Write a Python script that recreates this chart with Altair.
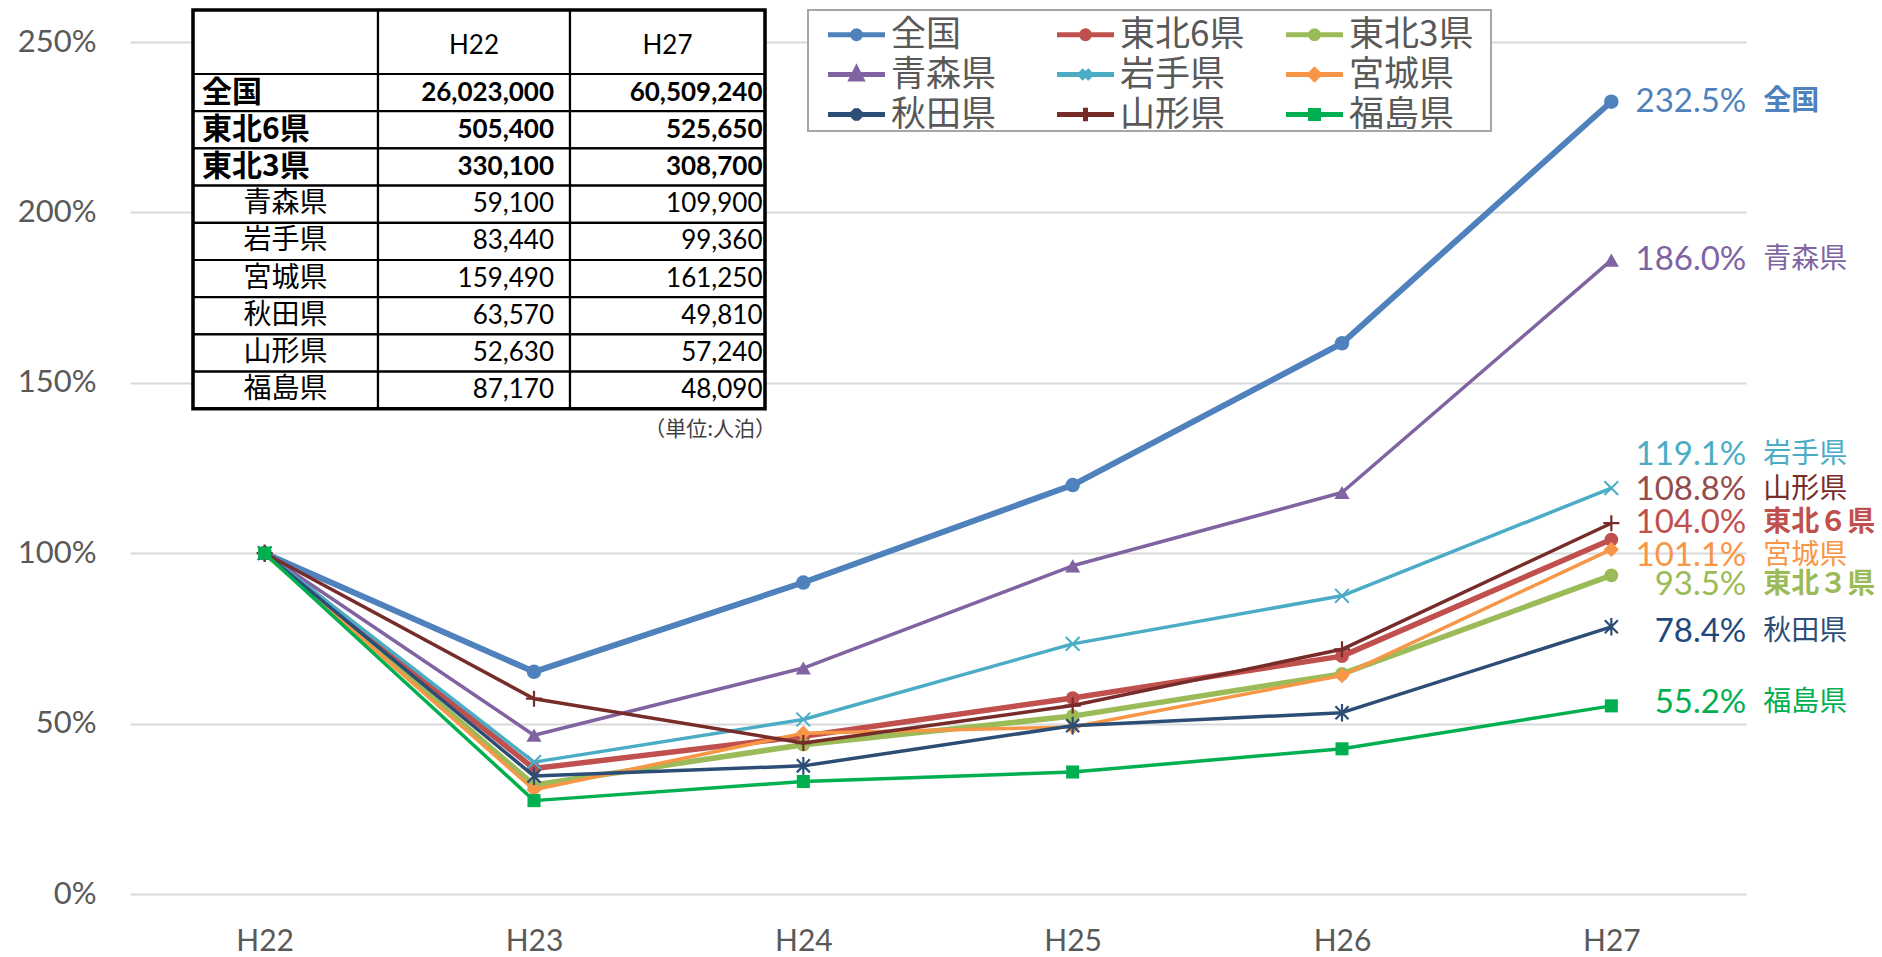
import altair as alt
import pandas as pd

# ---------------- data ----------------
years = ["H22", "H23", "H24", "H25", "H26", "H27"]
series = ["全国", "東北6県", "東北3県", "青森県", "岩手県", "宮城県", "秋田県", "山形県", "福島県"]

v_zenkoku = [100, 65.2, 91.4, 120.0, 161.6, 232.5]
v_tohoku6 = [100, 36.8, 46.3, 57.5, 69.8, 104.0]
v_tohoku3 = [100, 32.0, 43.8, 52.2, 64.6, 93.5]
v_aomori = [100, 46.6, 66.3, 96.3, 117.8, 186.0]
v_iwate = [100, 38.7, 51.2, 73.4, 87.5, 119.1]
v_miyagi = [100, 30.6, 47.2, 49.0, 64.1, 101.1]
v_akita = [100, 34.6, 37.6, 49.4, 53.2, 78.4]
v_yamagata = [100, 57.3, 44.3, 55.3, 71.8, 108.8]
v_fukushima = [100, 27.4, 33.0, 35.8, 42.6, 55.2]

end_names = ["全国", "東北６県", "東北３県", "青森県", "岩手県", "宮城県", "秋田県", "山形県", "福島県"]

y_ticks = [0, 50, 100, 150, 200, 250]

table_header = ["", "H22", "H27"]
table_rows = ["全国", "東北6県", "東北3県", "青森県", "岩手県", "宮城県", "秋田県", "山形県", "福島県"]
table_h22 = [26023000, 505400, 330100, 59100, 83440, 159490, 63570, 52630, 87170]
table_h27 = [60509240, 525650, 308700, 109900, 99360, 161250, 49810, 57240, 48090]
unit_note = "（単位:人泊）"

all_values = [v_zenkoku, v_tohoku6, v_tohoku3, v_aomori, v_iwate,
              v_miyagi, v_akita, v_yamagata, v_fukushima]

# ---------------- styles ----------------
X_PATH = "M-1,-1L1,1M-1,1L1,-1"
AST_PATH = "M-1,-1L1,1M-1,1L1,-1M0,-1.35L0,1.35"
PLUS_PATH = "M0,-1L0,1M-1,0L1,0"

style = {
    "全国":   dict(c="#4F81BD", w=6, shape="circle", size=210, filled=True, msw=1, dy=0, vc="#4F81BD", nc="#4F81BD", bold=True),
    "東北6県": dict(c="#C0504D", w=5.5, shape="circle", size=190, filled=True, msw=1, dy=-17, vc="#C0504D", nc="#C0504D", bold=True),
    "東北3県": dict(c="#9BBB59", w=5.5, shape="circle", size=190, filled=True, msw=1, dy=10, vc="#9BBB59", nc="#9BBB59", bold=True),
    "青森県": dict(c="#8064A2", w=3.5, shape="triangle-up", size=230, filled=True, msw=1, dy=0, vc="#8064A2", nc="#8064A2", bold=False),
    "岩手県": dict(c="#4BACC6", w=3.5, shape=X_PATH, size=190, filled=False, msw=2, dy=-33, vc="#4BACC6", nc="#4BACC6", bold=False),
    "宮城県": dict(c="#F79646", w=3.5, shape="diamond", size=230, filled=True, msw=1, dy=7, vc="#F79646", nc="#F79646", bold=False),
    "秋田県": dict(c="#2C4D75", w=3.5, shape=AST_PATH, size=170, filled=False, msw=2.2, dy=5, vc="#1F497D", nc="#2C4D75", bold=False),
    "山形県": dict(c="#772C2A", w=3.5, shape=PLUS_PATH, size=260, filled=False, msw=2.2, dy=-33, vc="#964C4A", nc="#772C2A", bold=False),
    "福島県": dict(c="#00B050", w=3.5, shape="square", size=170, filled=True, msw=1, dy=-3, vc="#00B050", nc="#00B050", bold=False),
}

LINE = "M-2.85,0L2.85,0"
legend_paths = [
    LINE + "M0.4,0A0.4,0.4,0,1,1,-0.4,0A0.4,0.4,0,1,1,0.4,0Z",
    LINE + "M0.4,0A0.4,0.4,0,1,1,-0.4,0A0.4,0.4,0,1,1,0.4,0Z",
    LINE + "M0.4,0A0.4,0.4,0,1,1,-0.4,0A0.4,0.4,0,1,1,0.4,0Z",
    LINE + "M0,-0.57L0.51,0.46L-0.51,0.46Z",
    LINE + "M-0.46,-0.46L0.46,0.46M-0.46,0.46L0.46,-0.46",
    LINE + "M0,-0.48L0.48,0L0,0.48L-0.48,0Z",
    LINE + "M-0.43,-0.43L0.43,0.43M-0.43,0.43L0.43,-0.43M0,-0.63L0,0.63",
    LINE + "M0,-0.68L0,0.68",
    LINE + "M-0.4,-0.4L0.4,-0.4L0.4,0.4L-0.4,0.4Z",
]

W, H = 1616, 852
GRID = "#D9D9D9"
AXIS_TXT = "#595959"
JP = "Noto Sans CJK JP"
LAT = "Lato"

X = alt.X("year:N", sort=years, scale=alt.Scale(domain=years),
          axis=alt.Axis(title=None, labelAngle=0, labelFont=LAT, labelFontSize=30,
                        labelColor=AXIS_TXT, ticks=False, tickSize=0, domain=False,
                        grid=False, labelPadding=32))
Y = alt.Y("value:Q", scale=alt.Scale(domain=[0, 250], nice=False),
          axis=alt.Axis(title=None, values=y_ticks, labelExpr="datum.value + '%'",
                        labelFont=LAT, labelFontSize=31, labelColor=AXIS_TXT,
                        ticks=False, tickSize=0, domain=False, grid=True,
                        gridColor=GRID, gridWidth=2, labelPadding=34))


def series_df(name, vals):
    return pd.DataFrame({"year": years, "value": vals, "series": name})


dfs = [series_df(s, v) for s, v in zip(series, all_values)]

layers = []
for s, df in zip(series, dfs):
    st = style[s]
    layers.append(alt.Chart(df).mark_line(color=st["c"], strokeWidth=st["w"],
                                          strokeJoin="round").encode(x=X, y=Y))
    if st["filled"]:
        pm = alt.Chart(df).mark_point(shape=st["shape"], size=st["size"], filled=True,
                                      color=st["c"], opacity=1)
    else:
        pm = alt.Chart(df).mark_point(shape=st["shape"], size=st["size"], filled=False,
                                      color=st["c"], strokeWidth=st["msw"], opacity=1)
    layers.append(pm.encode(x=X, y=Y))

for s, df, nm in zip(series, dfs, end_names):
    st = style[s]
    last = alt.Chart(df).transform_filter(alt.datum.year == years[-1])
    layers.append(
        last.transform_calculate(lbl="format(datum.value, '.1f') + '%'")
        .mark_text(align="right", baseline="middle", dx=135, dy=st["dy"], font=LAT,
                   fontSize=33, color=st["vc"])
        .encode(x=X, y=Y, text="lbl:N"))
    layers.append(
        last.mark_text(align="left", baseline="middle", dx=152, dy=st["dy"], font=JP,
                       fontSize=28, color=st["nc"],
                       fontWeight="bold" if st["bold"] else "normal")
        .encode(x=X, y=Y, text=alt.value(nm)))

colors = [style[s]["c"] for s in series]
leg = alt.Legend(orient="none", legendX=709, legendY=-25, columns=3, direction="horizontal",
                 title=None, labelFont=JP, labelFontSize=35, labelColor=AXIS_TXT,
                 symbolSize=400, symbolStrokeWidth=5, labelOffset=17,
                 columnPadding=31, rowPadding=4, padding=0, gridAlign="all",
                 labelLimit=400)
legend_layer = alt.Chart(pd.concat(dfs)).transform_filter("false").mark_point(
    filled=True, strokeWidth=5, opacity=1).encode(
    x=X, y=Y,
    fill=alt.Fill("series:N", scale=alt.Scale(domain=series, range=colors), legend=leg),
    stroke=alt.Stroke("series:N", scale=alt.Scale(domain=series, range=colors), legend=leg),
    shape=alt.Shape("series:N", scale=alt.Scale(domain=series, range=legend_paths), legend=leg),
)

main = alt.layer(*layers, legend_layer)

# ---------------- table (own scales, table units) ----------------
col_edges = [0, 185, 377, 572]
row_edges = [0, 64] + [64 + 37.2 * i for i in range(1, 10)]
TX = dict(scale=alt.Scale(domain=[0, 572], range=[63, 635]), axis=None)
TY = dict(scale=alt.Scale(domain=[0, 399], range=[-32, 367]), axis=None)

cells = []
for r in range(10):
    for c in range(3):
        cells.append(dict(x1=col_edges[c], x2=col_edges[c + 1], y1=row_edges[r], y2=row_edges[r + 1]))
cells_df = pd.DataFrame(cells)
outer_df = pd.DataFrame([dict(x1=0, x2=572, y1=0, y2=row_edges[-1])])
legbox_df = pd.DataFrame([dict(x1=615, x2=1298, y1=0, y2=121)])


def rc(i):
    return (row_edges[i + 1] + row_edges[i + 2]) / 2


hdr_df = pd.DataFrame({"x": [(col_edges[1] + col_edges[2]) / 2, (col_edges[2] + col_edges[3]) / 2],
                       "y": [36, 36], "t": table_header[1:]})
lab_bold = pd.DataFrame({"x": [9] * 3, "y": [rc(i) for i in range(3)], "t": table_rows[:3]})
lab_norm = pd.DataFrame({"x": [92.5] * 6, "y": [rc(i) for i in range(3, 9)], "t": table_rows[3:]})
n22b = pd.DataFrame({"x": [361] * 3, "y": [rc(i) for i in range(3)], "v": table_h22[:3]})
n22n = pd.DataFrame({"x": [361] * 6, "y": [rc(i) for i in range(3, 9)], "v": table_h22[3:]})
n27b = pd.DataFrame({"x": [569.5] * 3, "y": [rc(i) for i in range(3)], "v": table_h27[:3]})
n27n = pd.DataFrame({"x": [569.5] * 6, "y": [rc(i) for i in range(3, 9)], "v": table_h27[3:]})
note_df = pd.DataFrame({"x": [583], "y": [420], "t": [unit_note]})


def rects(df, sw, stroke, fill):
    return alt.Chart(df).mark_rect(stroke=stroke, strokeWidth=sw, fill=fill).encode(
        x=alt.X("x1:Q", **TX), x2="x2:Q", y=alt.Y("y1:Q", **TY), y2="y2:Q")


def texts(df, field, align, font, size, bold=False, fmt=None, color="#000000"):
    tenc = alt.Text(field, format=fmt) if fmt else alt.Text(field)
    return alt.Chart(df).mark_text(align=align, baseline="middle", font=font, fontSize=size,
                                   fontWeight="bold" if bold else "normal", color=color).encode(
        x=alt.X("x:Q", **TX), y=alt.Y("y:Q", **TY), text=tenc)


table = alt.layer(
    rects(legbox_df, 2, "#A6A6A6", "#FFFFFF"),
    rects(cells_df, 2.2, "#000000", "#FFFFFF"),
    rects(outer_df, 3.5, "#000000", None),
    texts(hdr_df, "t:N", "center", LAT, 26),
    texts(lab_bold, "t:N", "left", JP, 30, bold=True),
    texts(lab_norm, "t:N", "center", JP, 28),
    texts(n22b, "v:Q", "right", LAT, 26, bold=True, fmt=","),
    texts(n22n, "v:Q", "right", LAT, 26, fmt=","),
    texts(n27b, "v:Q", "right", LAT, 26, bold=True, fmt=","),
    texts(n27n, "v:Q", "right", LAT, 26, fmt=","),
    texts(note_df, "t:N", "right", JP, 21, color="#404040"),
)

chart = alt.layer(main, table).resolve_scale(x="independent", y="independent").properties(
    width=W, height=H,
    autosize=alt.AutoSizeParams(type="none"),
    padding={"left": 122, "top": 34, "right": 128, "bottom": 63},
).configure_view(stroke=None)

chart.save("out.html", embed_options={"renderer": "svg", "actions": False})
